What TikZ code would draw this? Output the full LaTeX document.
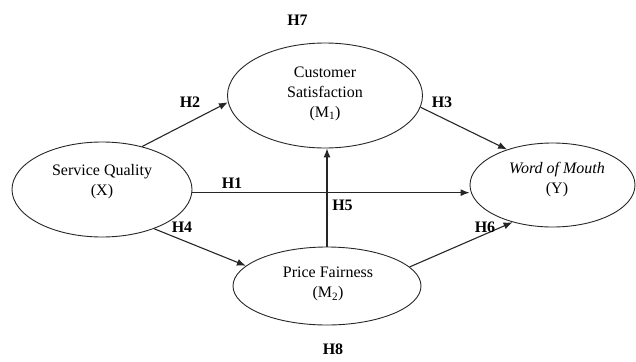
\documentclass[tikz,border=0pt]{standalone}
\usepackage{fontspec}
\setmainfont{Liberation Serif}
\usetikzlibrary{shapes.geometric,arrows.meta}
\begin{document}
\begin{tikzpicture}[x=1pt,y=-1pt,
  construct/.style={draw=black!85, line width=0.9pt, ellipse, inner sep=0pt},
  vartext/.style={align=center, font=\fontsize{16}{20}\selectfont},
  hyp/.style={font=\fontsize{16}{20}\selectfont\bfseries, inner sep=0pt},
  link/.style={draw=black!85, line width=1.1pt, -{Latex[length=9pt,width=7pt]}}]
\useasboundingbox (0,0) rectangle (636,361);
% ellipses
\node[construct, minimum width=180pt, minimum height=95pt] (sq) at (102,189.5) {};
\node[construct, minimum width=195pt, minimum height=105pt] (cs) at (325,95.5) {};
\node[construct, minimum width=165pt, minimum height=84pt] (wom) at (552.5,185) {};
\node[construct, minimum width=188pt, minimum height=78pt] (pf) at (327,286) {};
% texts
\node[vartext] (sqt) at (102,182) {Service Quality\\(X)};
\node[vartext] (cst) at (325,93.5) {Customer\\Satisfaction\\(M\textsubscript{1})};
\node[vartext] (womt) at (557,180) {\textit{Word of Mouth}\\(Y)};
\node[vartext] (pft) at (328,284) {Price Fairness\\(M\textsubscript{2})};
% connectors
\draw[link] (sq.47) -- (cs.184);
\draw[link] (cs.-7) -- (wom.142);
\draw[link] (sq.-2) -- (sq.-2 -| wom.west);
\draw[link] (sq.-37) -- (pf.166);
\draw[link] (pf.13) -- (wom.223);
\draw[link] (pf.north) -- (pf.north |- cs.south);
% hypothesis labels
\node[hyp] (h1) at (232,183.5) {H1};
\node[hyp] (h2) at (190,102) {H2};
\node[hyp] (h3) at (442,102) {H3};
\node[hyp] (h4) at (182,227) {H4};
\node[hyp] (h5) at (342.5,205.5) {H5};
\node[hyp] (h6) at (485,227) {H6};
\node[hyp] (h7) at (297.5,20) {H7};
\node[hyp] (h8) at (333,349) {H8};
\end{tikzpicture}
\end{document}
